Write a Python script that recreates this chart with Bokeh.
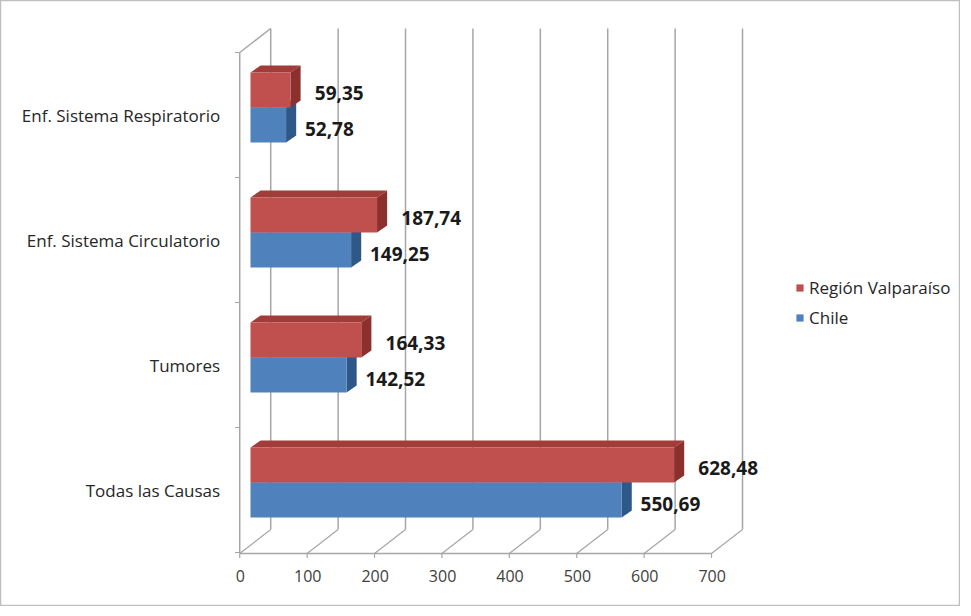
from bokeh.plotting import figure
from bokeh.models import Range1d, Legend, LegendItem
from bokeh.core.properties import value
from bokeh.embed import file_html
from bokeh.resources import INLINE

# ---------------- data ----------------
categories = ["Todas las Causas", "Tumores", "Enf. Sistema Circulatorio", "Enf. Sistema Respiratorio"]
chile = [550.69, 142.52, 149.25, 52.78]
valparaiso = [628.48, 164.33, 187.74, 59.35]
series_names = ["Región Valparaíso", "Chile"]
x_ticks = [0, 100, 200, 300, 400, 500, 600, 700]

# ---------------- style / geometry constants ----------------
RED, RED_TOP, RED_SIDE = "#C0504D", "#A13C39", "#8C302E"
BLUE, BLUE_TOP, BLUE_SIDE = "#4F81BD", "#3E6AA0", "#2D5888"
GRID = "#A6A6A6"
DX, DY = 15.0, 0.056            # bar depth (x units, category units)
BACK_DX, BACK_DY = 30.0, 0.192  # wall depth
FRONT_DX = -16.0                # front edge of floor / left wall
BAR_H = 0.28
FONT = "Open Sans"

W, H = 960, 606
p = figure(width=W, height=H, output_backend="svg", toolbar_location=None,
           x_axis_type=None, y_axis_type=None, min_border=0,
           x_range=Range1d(-370.92, -370.92 + W / 0.674),
           y_range=Range1d(3.916 - H / 125.0, 3.916))
p.outline_line_color = "#BFBFBF"
p.outline_line_width = 1.5
p.background_fill_color = "white"
p.border_fill_color = "white"

n = len(categories)
cpos = list(range(n))
lo, hi = -0.5, n - 0.5
floor_y = lo - 0.008
top_y = hi

# ---- back wall gridlines ----
p.segment(x0=[t + BACK_DX for t in x_ticks], y0=[floor_y + BACK_DY] * len(x_ticks),
          x1=[t + BACK_DX for t in x_ticks], y1=[top_y + BACK_DY] * len(x_ticks),
          line_color=GRID, line_width=1.5)
# ---- floor diagonals ----
p.segment(x0=[t + FRONT_DX for t in x_ticks], y0=[floor_y] * len(x_ticks),
          x1=[t + BACK_DX for t in x_ticks], y1=[floor_y + BACK_DY] * len(x_ticks),
          line_color=GRID, line_width=1.2)
# front floor edge
p.segment(x0=[x_ticks[0] + FRONT_DX], y0=[floor_y], x1=[x_ticks[-1] + FRONT_DX], y1=[floor_y],
          line_color=GRID, line_width=1.5)
# front ticks (down)
p.segment(x0=[t + FRONT_DX for t in x_ticks], y0=[floor_y] * len(x_ticks),
          x1=[t + FRONT_DX for t in x_ticks], y1=[floor_y - 0.035] * len(x_ticks),
          line_color=GRID, line_width=1.2)
# left wall: front vertical + top diagonal
p.segment(x0=[FRONT_DX], y0=[floor_y], x1=[FRONT_DX], y1=[top_y], line_color=GRID, line_width=1.5)
p.segment(x0=[FRONT_DX], y0=[top_y], x1=[x_ticks[0] + BACK_DX], y1=[top_y + BACK_DY],
          line_color=GRID, line_width=1.5)
bounds = [lo + i for i in range(n + 1)]
p.segment(x0=[FRONT_DX] * len(bounds), y0=bounds, x1=[FRONT_DX - 7] * len(bounds), y1=bounds,
          line_color=GRID, line_width=1.2)

# ---------------- bars ----------------
def draw_series(vals, y_lo, col, col_top, col_side):
    xs_top = [[0, v, v + DX, DX] for v in vals]
    ys_top = [[c + y_lo + BAR_H] * 2 + [c + y_lo + BAR_H + DY] * 2 for c in cpos]
    p.patches(xs_top, ys_top, fill_color=col_top, line_color=None)
    xs_side = [[v, v, v + DX, v + DX] for v in vals]
    ys_side = [[c + y_lo, c + y_lo + BAR_H, c + y_lo + BAR_H + DY, c + y_lo + DY] for c in cpos]
    p.patches(xs_side, ys_side, fill_color=col_side, line_color=None)
    return p.hbar(y=[c + y_lo + BAR_H / 2 for c in cpos], height=BAR_H, left=0, right=vals,
                  fill_color=col, line_color=None)

r_blue = draw_series(chile, -0.22, BLUE, BLUE_TOP, BLUE_SIDE)
r_red = draw_series(valparaiso, 0.06, RED, RED_TOP, RED_SIDE)

# value labels
def fmt(v):
    return f"{v:.2f}".replace(".", ",")

p.text(x=[v + 36 for v in valparaiso], y=[c + 0.06 + BAR_H / 2 - 0.02 for c in cpos],
       text=[fmt(v) for v in valparaiso], text_font=value(FONT), text_font_style="bold",
       text_font_size="19px", text_color="#1A1A1A", text_align="left", text_baseline="middle")
p.text(x=[v + 28 for v in chile], y=[c - 0.22 + BAR_H / 2 - 0.03 for c in cpos],
       text=[fmt(v) for v in chile], text_font=value(FONT), text_font_style="bold",
       text_font_size="19px", text_color="#1A1A1A", text_align="left", text_baseline="middle")

# category labels
p.text(x=[FRONT_DX - 29] * n, y=cpos, text=categories, text_font=value(FONT),
       text_font_size="17px", text_color="#262626", text_align="right", text_baseline="middle")
# x tick labels
p.text(x=[t + FRONT_DX + 1 for t in x_ticks], y=[floor_y - 0.18] * len(x_ticks),
       text=[str(t) for t in x_ticks], text_font=value(FONT), text_font_size="16px",
       text_color="#404040", text_align="center", text_baseline="middle")

legend = Legend(items=[LegendItem(label=series_names[0], renderers=[r_red]),
                       LegendItem(label=series_names[1], renderers=[r_blue])],
                location=(795, 277), orientation="vertical")
legend.label_text_font = FONT
legend.label_text_font_size = "17px"
legend.label_text_color = "#262626"
legend.glyph_width = 9
legend.glyph_height = 9
legend.label_height = 23
legend.spacing = 7
legend.padding = 0
legend.margin = 0
legend.label_standoff = 5
legend.border_line_color = None
legend.background_fill_alpha = 0
p.add_layout(legend, "center")

open("out.html", "w").write(file_html(p, INLINE))
